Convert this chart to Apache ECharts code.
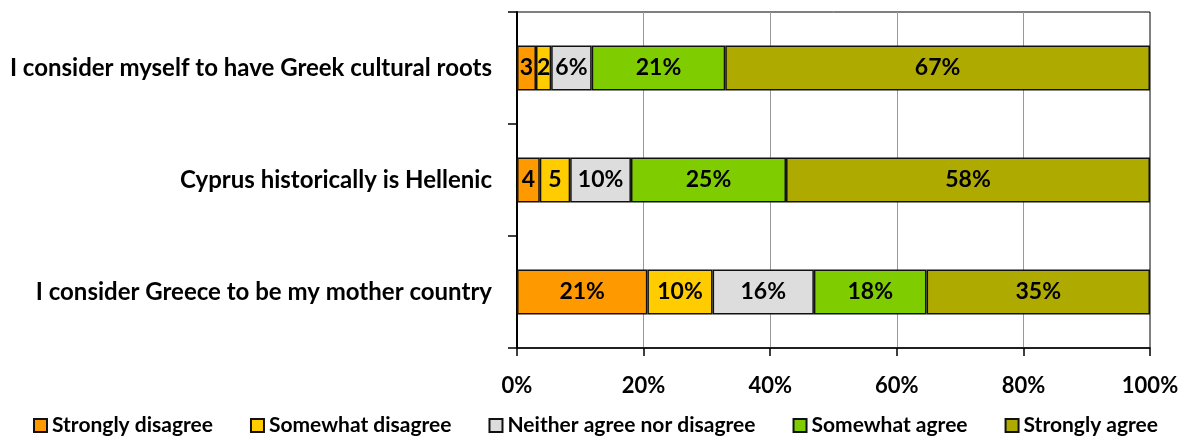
<!DOCTYPE html>
<html>
<head>
<meta charset="utf-8">
<script src="https://cdn.jsdelivr.net/npm/echarts@6/dist/echarts.min.js"></script>
<style>
html,body{margin:0;padding:0;background:#fff;}
#chart{width:1181px;height:438px;}
</style>
</head>
<body>
<div id="chart"></div>
<script>
const categories = [
  'I consider myself to have Greek cultural roots',
  'Cyprus historically is Hellenic',
  'I consider Greece to be my mother country'
];
const seriesNames = ['Strongly disagree', 'Somewhat disagree', 'Neither agree nor disagree', 'Somewhat agree', 'Strongly agree'];
const stronglyDisagree = [3.0, 3.6, 20.6];
const somewhatDisagree = [2.4, 4.8, 10.3];
const neither = [6.4, 9.6, 16.0];
const somewhatAgree = [21.1, 24.5, 17.8];
const stronglyAgree = [67.1, 57.5, 35.3];
const xTicks = [0, 20, 40, 60, 80, 100];

const colors = ['#FF9900', '#FFCC00', '#DDDDDD', '#7FCC00', '#AFAA00'];
const values = [stronglyDisagree, somewhatDisagree, neither, somewhatAgree, stronglyAgree];
const FONT = 'Lato';

const chart = echarts.init(document.getElementById('chart'));
chart.setOption({
  animation: false,
  textStyle: { fontFamily: FONT },
  grid: { left: 517, right: 31, top: 12, bottom: 90, show: true, borderColor: '#000', borderWidth: 1, outerBoundsMode: 'none', containLabel: false },
  legend: {
    left: 28, top: 410, width: 1153,
    itemWidth: 13, itemHeight: 13, itemGap: 37,
    icon: 'rect',
    textStyle: { fontFamily: FONT, fontWeight: 'bold', fontSize: 21, color: '#000' },
    data: seriesNames
  },
  xAxis: {
    type: 'value', min: xTicks[0], max: xTicks[xTicks.length - 1], interval: 20,
    axisLine: { show: true, lineStyle: { color: '#000', width: 1.5 } },
    axisTick: { show: true, length: 8, lineStyle: { color: '#000', width: 1.5 } },
    axisLabel: { formatter: '{value}%', fontFamily: FONT, fontWeight: 'bold', fontSize: 22, color: '#000', margin: 27 },
    splitLine: { show: true, showMinLine: false, showMaxLine: false, lineStyle: { color: '#999', width: 1 } }
  },
  yAxis: {
    type: 'category', data: categories, inverse: true,
    axisLine: { show: true, lineStyle: { color: '#000', width: 2 } },
    axisTick: { show: true, length: 9, lineStyle: { color: '#000', width: 1.5 } },
    axisLabel: { fontFamily: FONT, fontWeight: 'bold', fontSize: 24, color: '#000', margin: 25 }
  },
  series: seriesNames.map((name, i) => ({
    name, type: 'bar', stack: 'total', barWidth: 45,
    data: values[i],
    itemStyle: { color: colors[i], borderColor: '#111', borderWidth: 1.5 },
    label: {
      show: true, position: 'inside', color: '#000',
      fontFamily: FONT, fontWeight: 'bold', fontSize: 23,
      formatter: p => Math.round(p.value) + (p.value >= 6 ? '%' : '')
    }
  }))
});
</script>
</body>
</html>
